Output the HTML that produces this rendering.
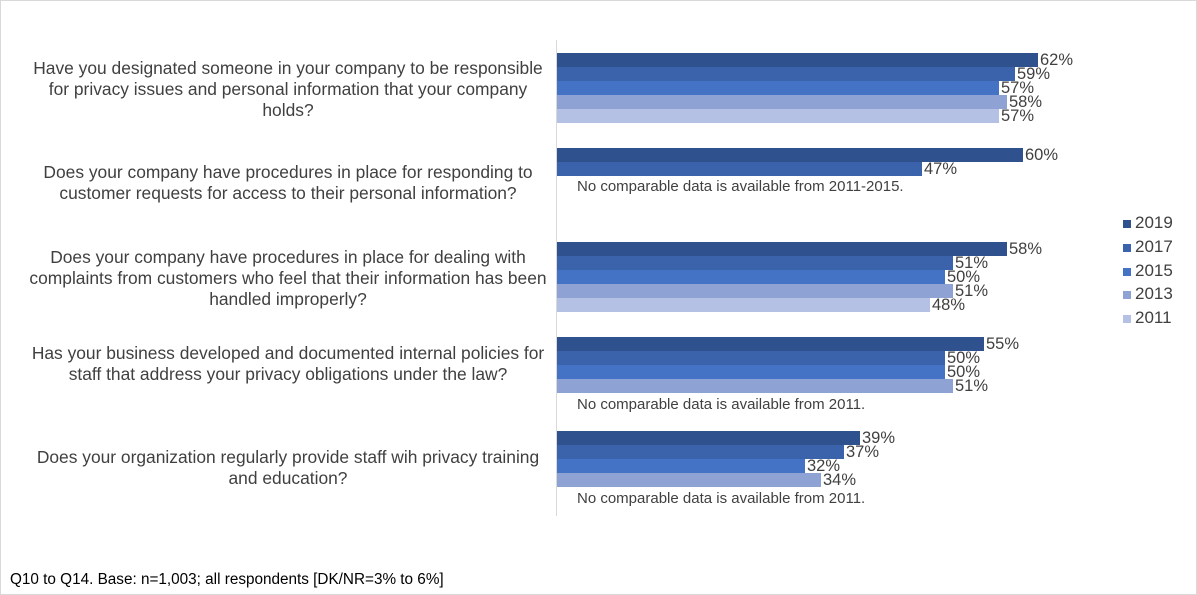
<!DOCTYPE html>
<html><head><meta charset="utf-8"><style>
body{margin:0;width:1197px;height:595px;background:#fff;font-family:"Liberation Sans",Arial,sans-serif;color:#404040;position:relative;overflow:hidden}
.frame{position:absolute;left:0;top:0;width:1195px;height:593px;border:1px solid #d9d9d9}
.q{position:absolute;left:18px;width:540px;text-align:center;font-size:17.4px;line-height:21px;white-space:nowrap}
.b{position:absolute;left:557px;height:14px}
.v{position:absolute;font-size:16.5px;line-height:14px;background:#fff;padding:0 1px}
.n{position:absolute;left:577px;font-size:15px}
.c19{background:#2F528F}.c17{background:#3A63AC}.c15{background:#4472C4}.c13{background:#8FA2D4}.c11{background:#B4C0E4}
.lg{position:absolute;left:1123px;width:8px;height:8px}
.lt{position:absolute;left:1135px;font-size:17px;line-height:16px}
</style></head><body>
<div class="frame"></div>
<div style="position:absolute;left:556px;top:40px;width:1px;height:476px;background:#d9d9d9"></div>

<div class="q" style="top:58px">Have you designated someone in your company to be responsible<br>for privacy issues and personal information that your company<br>holds?</div>
<div class="q" style="top:162px">Does your company have procedures in place for responding to<br>customer requests for access to their personal information?</div>
<div class="q" style="top:247px">Does your company have procedures in place for dealing with<br>complaints from customers who feel that their information has been<br>handled improperly?</div>
<div class="q" style="top:343px">Has your business developed and documented internal policies for<br>staff that address your privacy obligations under the law?</div>
<div class="q" style="top:447px">Does your organization regularly provide staff wih privacy training<br>and education?</div>

<div class="b c19" style="top:53px;width:481px"></div><div class="v" style="top:53px;left:1039px">62%</div>
<div class="b c17" style="top:67px;width:458px"></div><div class="v" style="top:67px;left:1016px">59%</div>
<div class="b c15" style="top:81px;width:442px"></div><div class="v" style="top:81px;left:1000px">57%</div>
<div class="b c13" style="top:95px;width:450px"></div><div class="v" style="top:95px;left:1008px">58%</div>
<div class="b c11" style="top:109px;width:442px"></div><div class="v" style="top:109px;left:1000px">57%</div>

<div class="b c19" style="top:148px;width:466px"></div><div class="v" style="top:148px;left:1024px">60%</div>
<div class="b c17" style="top:162px;width:365px"></div><div class="v" style="top:162px;left:923px">47%</div>
<div class="n" style="top:178px">No comparable data is available from 2011-2015.</div>

<div class="b c19" style="top:242px;width:450px"></div><div class="v" style="top:242px;left:1008px">58%</div>
<div class="b c17" style="top:256px;width:396px"></div><div class="v" style="top:256px;left:954px">51%</div>
<div class="b c15" style="top:270px;width:388px"></div><div class="v" style="top:270px;left:946px">50%</div>
<div class="b c13" style="top:284px;width:396px"></div><div class="v" style="top:284px;left:954px">51%</div>
<div class="b c11" style="top:298px;width:373px"></div><div class="v" style="top:298px;left:931px">48%</div>

<div class="b c19" style="top:337px;width:427px"></div><div class="v" style="top:337px;left:985px">55%</div>
<div class="b c17" style="top:351px;width:388px"></div><div class="v" style="top:351px;left:946px">50%</div>
<div class="b c15" style="top:365px;width:388px"></div><div class="v" style="top:365px;left:946px">50%</div>
<div class="b c13" style="top:379px;width:396px"></div><div class="v" style="top:379px;left:954px">51%</div>
<div class="n" style="top:396px">No comparable data is available from 2011.</div>

<div class="b c19" style="top:431px;width:303px"></div><div class="v" style="top:431px;left:861px">39%</div>
<div class="b c17" style="top:445px;width:287px"></div><div class="v" style="top:445px;left:845px">37%</div>
<div class="b c15" style="top:459px;width:248px"></div><div class="v" style="top:459px;left:806px">32%</div>
<div class="b c13" style="top:473px;width:264px"></div><div class="v" style="top:473px;left:822px">34%</div>
<div class="n" style="top:490px">No comparable data is available from 2011.</div>

<div class="lg c19" style="top:220px"></div><div class="lt" style="top:215px">2019</div>
<div class="lg c17" style="top:244px"></div><div class="lt" style="top:239px">2017</div>
<div class="lg c15" style="top:268px"></div><div class="lt" style="top:263px">2015</div>
<div class="lg c13" style="top:291px"></div><div class="lt" style="top:286px">2013</div>
<div class="lg c11" style="top:315px"></div><div class="lt" style="top:310px">2011</div>

<div style="position:absolute;left:10px;top:571px;font-size:15.3px;color:#000">Q10 to Q14. Base: n=1,003; all respondents [DK/NR=3% to 6%]</div>
</body></html>
